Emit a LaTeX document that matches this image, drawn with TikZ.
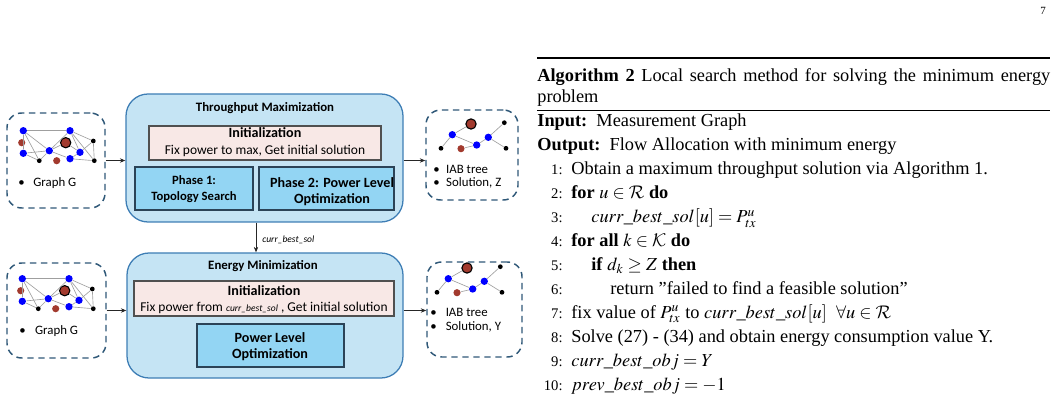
\documentclass[tikz,border=0pt]{standalone}
\usepackage{mathptmx}
\DeclareMathAlphabet{\mathcal}{OMS}{cmsy}{m}{n}
\usepackage[no-math]{fontspec}
\setmainfont{Liberation Serif}
\newfontfamily\diag{Carlito}
\usetikzlibrary{fit,arrows.meta}
\definecolor{bigfill}{HTML}{C5E4F4}
\definecolor{bigedge}{HTML}{3E7EB5}
\definecolor{initfill}{HTML}{F8E8E6}
\definecolor{initedge}{HTML}{505050}
\definecolor{phfill}{HTML}{93D5F3}
\definecolor{phedge}{HTML}{2B4357}
\definecolor{dashc}{HTML}{2F5878}
\definecolor{nodeblue}{HTML}{0000FF}
\definecolor{nodered}{HTML}{A23A2E}
\newcommand\graphnet[1]{%
  \node[bn]  (#1a) at (23.3,130.7) {};
  \node[bn]  (#1b) at (70,130.7) {};
  \node[rn]  (#1c) at (21.7,142.7) {};
  \node[brn] (#1d) at (65.7,142.7) {};
  \node[kn]  (#1e) at (93.3,141) {};
  \node[bn]  (#1f) at (23.3,153.3) {};
  \node[bn]  (#1g) at (49.3,150.7) {};
  \node[bn]  (#1h) at (80,152.3) {};
  \node[kn]  (#1i) at (39.3,160.7) {};
  \node[rn]  (#1j) at (56.7,160.7) {};
  \node[bn]  (#1k) at (70,158.7) {};
  \node[kn]  (#1l) at (94.3,160.7) {};
  \foreach \u/\v in {a/b,a/g,a/i,a/f,f/g,f/i,g/i,g/d,g/b,g/k,b/e,b/h,b/l,d/h,h/e,h/k,k/l,e/l}
    \draw[edge] (#1\u) -- (#1\v);
}
\newcommand\treenet[1]{%
  \node[brn] (#1t1) at (471,124) {};
  \node[kn]  (#1t2) at (504.3,122.7) {};
  \node[bn]  (#1t3) at (452.3,134.7) {};
  \node[bn]  (#1t4) at (488.3,137.3) {};
  \node[bn]  (#1t5) at (476.7,145) {};
  \node[rn]  (#1t6) at (461,148.7) {};
  \node[kn]  (#1t7) at (441,148.3) {};
  \node[kn]  (#1t8) at (506,148.3) {};
  \foreach \u/\v in {t7/t3,t3/t1,t3/t5,t5/t4,t4/t2,t4/t8,t6/t5}
    \draw[edge] (#1\u) -- (#1\v);
}
\begin{document}
\begin{tikzpicture}[x=0.5455pt,y=-0.5455pt,
  bigbox/.style={draw=bigedge, fill=bigfill, rounded corners=12pt, line width=0.7pt, inner sep=0},
  initbox/.style={draw=initedge, fill=initfill, line width=0.6pt, inner sep=0},
  phbox/.style={draw=phedge, fill=phfill, line width=0.6pt, inner sep=0},
  dbox/.style={draw=dashc, dash pattern=on 3.5pt off 2.5pt, line width=0.8pt, rounded corners=8pt, inner sep=0},
  arr/.style={-{Stealth[length=3pt,width=2.4pt]}, line width=0.4pt, draw=black!85},
  edge/.style={draw=gray!75, line width=0.35pt},
  bn/.style={circle, fill=nodeblue, inner sep=0, minimum size=4pt},
  rn/.style={circle, fill=nodered, inner sep=0, minimum size=3.9pt},
  brn/.style={circle, fill=nodered, draw=black, line width=0.6pt, inner sep=0, minimum size=5.6pt},
  kn/.style={circle, fill=black, inner sep=0, minimum size=2.6pt},
  ttl/.style={inner sep=0, anchor=base, font=\diag\bfseries\fontsize{7}{8}\selectfont},
  bigt/.style={inner sep=0, anchor=base, font=\diag\bfseries\fontsize{7.7}{9}\selectfont},
  plain/.style={inner sep=0, anchor=base, font=\diag\fontsize{7.35}{9}\selectfont},
  blt/.style={inner sep=0, anchor=base west, font=\diag\fontsize{7}{8}\selectfont},
  alg/.style={inner sep=0, anchor=base west, text height=7pt, text depth=2pt, font=\fontsize{10}{12}\selectfont},
  num/.style={inner sep=0, anchor=base east, font=\fontsize{8}{9.6}\selectfont},
]
\useasboundingbox (0,0) rectangle (1054,402);

% ---------- page number ----------
\node[inner sep=0, anchor=base, font=\fontsize{6}{7}\selectfont] (pg) at (1043,15) {7};

% ---------- input graph boxes ----------
\node[dbox, fit={(7,113) (105,208)}] (gin1) {};
\graphnet{ga}
\node[blt] (gl1) at (18,187) {\makebox[8.2pt][l]{•}Graph G};

\node[dbox, fit={(7,263) (106,358)}] (gin2) {};
\begin{scope}[shift={(-1,148)}]
  \graphnet{gb}
\end{scope}
\node[blt] (gl2) at (19,334) {\makebox[8.6pt][l]{•}Graph G};

% ---------- Throughput Maximization ----------
\node[bigbox, fit={(126,94) (403,222)}] (tm) {};
\node[ttl] (tmt) at (265,112) {Throughput Maximization};
\node[initbox, fit={(149,126) (381,160)}] (ini1) {};
\node[bigt] (ini1a) at (265,138) {Initialization};
\node[plain] (ini1b) at (265,155) {Fix power to max, Get initial solution};
\node[phbox, fit={(135,167) (253,210)}] (ph1) {};
\node[ttl, font=\diag\bfseries\fontsize{6.9}{8}\selectfont] (ph1a) at (194,185) {Phase 1:};
\node[ttl, font=\diag\bfseries\fontsize{6.9}{8}\selectfont] (ph1b) at (194,201) {Topology Search};
\node[phbox, fit={(259,167) (394,210)}] (ph2) {};
\node[bigt] (ph2a) at (332,188) {Phase 2: Power Level};
\node[bigt] (ph2b) at (332,203) {Optimization};

% ---------- Energy Minimization ----------
\node[bigbox, fit={(127,253) (403,378)}] (em) {};
\node[ttl] (emt) at (263,270) {Energy Minimization};
\node[initbox, fit={(134,281) (394,316)}] (ini2) {};
\node[bigt] (ini2a) at (264,295) {Initialization};
\node[plain] (ini2b) at (264,311) {Fix power from {\itshape\fontsize{5.2}{6}\selectfont curr\_best\_sol} , Get initial solution};
\node[phbox, fit={(197,324) (344,367)}] (plo) {};
\node[bigt] (ploa) at (270,342) {Power Level};
\node[bigt] (plob) at (270,358) {Optimization};

% ---------- outputs ----------
\node[dbox, fit={(426,110) (518,200)}] (out1) {};
\treenet{ta}
\node[blt] (ol1a) at (433,174) {\makebox[7pt][l]{•}IAB tree};
\node[blt] (ol1b) at (433,187) {\makebox[7pt][l]{•}Solution, Z};

\node[dbox, fit={(427,262) (522,357)}] (out2) {};
\begin{scope}[shift={(-4,144)}]
  \treenet{tb}
\end{scope}
\node[blt] (ol2a) at (430,316) {\makebox[8.4pt][l]{•}IAB tree};
\node[blt] (ol2b) at (430,330) {\makebox[8.4pt][l]{•}Solution, Y};

% ---------- connectors ----------
\draw[arr] (gin1.east) -- (gin1.east -| tm.west);
\draw[arr] (tm.east |- gin1.east) -- (out1.west |- gin1.east);
\draw[arr] (gin2.east) -- (gin2.east -| em.west);
\draw[arr] (em.east |- gin2.east) -- (out2.west |- gin2.east);
\coordinate (vx) at (256,0);
\draw[arr] (tm.south -| vx) -- (em.north -| vx);
\node[inner sep=0, anchor=base west, font=\diag\itshape\fontsize{5.2}{6}\selectfont] (cbs) at (262,243) {curr\_best\_sol};

% ---------- algorithm ----------
\draw[line width=0.8pt] (537,58) -- (1050,58);
\node[alg] (cap1) at (537,82) {\makebox[279.8pt][s]{\textbf{Algorithm 2} Local search method for solving the minimum energy}};
\node[alg] (cap2) at (537,103) {problem};
\draw[line width=0.5pt] (537,110) -- (1050,110);
\node[alg] (inp) at (537,127) {\textbf{Input:}\ \ Measurement Graph};
\node[alg] (outp) at (537,151) {\textbf{Output:}\ \ Flow Allocation with minimum energy};
\foreach \k in {1,...,10} {
  \node[num] (n\k) at (563,{175+(\k-1)*23.9}) {\k:};
}
\node[alg] (l1) at (571,175) {Obtain a maximum throughput solution via Algorithm 1.};
\node[alg] (l2) at (571,198.9) {\textbf{for} $u\in\mathcal{R}$ \textbf{do}};
\node[alg] (l3) at (591,222.8) {$curr\_best\_sol[u]=P_{tx}^{u}$};
\node[alg] (l4) at (571,246.7) {\textbf{for all} $k\in\mathcal{K}$ \textbf{do}};
\node[alg] (l5) at (591,270.6) {\textbf{if} $d_k\geq Z$ \textbf{then}};
\node[alg] (l6) at (610,294.5) {return ''failed to find a feasible solution''};
\node[alg] (l7) at (571,318.4) {fix value of $P_{tx}^{u}$ to $curr\_best\_sol[u]\ \ \forall u\in\mathcal{R}$};
\node[alg] (l8) at (571,342.3) {Solve (27) - (34) and obtain energy consumption value Y.};
\node[alg] (l9) at (571,366.2) {$curr\_best\_obj=Y$};
\node[alg] (l10) at (571,390.1) {$prev\_best\_obj=-1$};
\end{tikzpicture}
\end{document}
